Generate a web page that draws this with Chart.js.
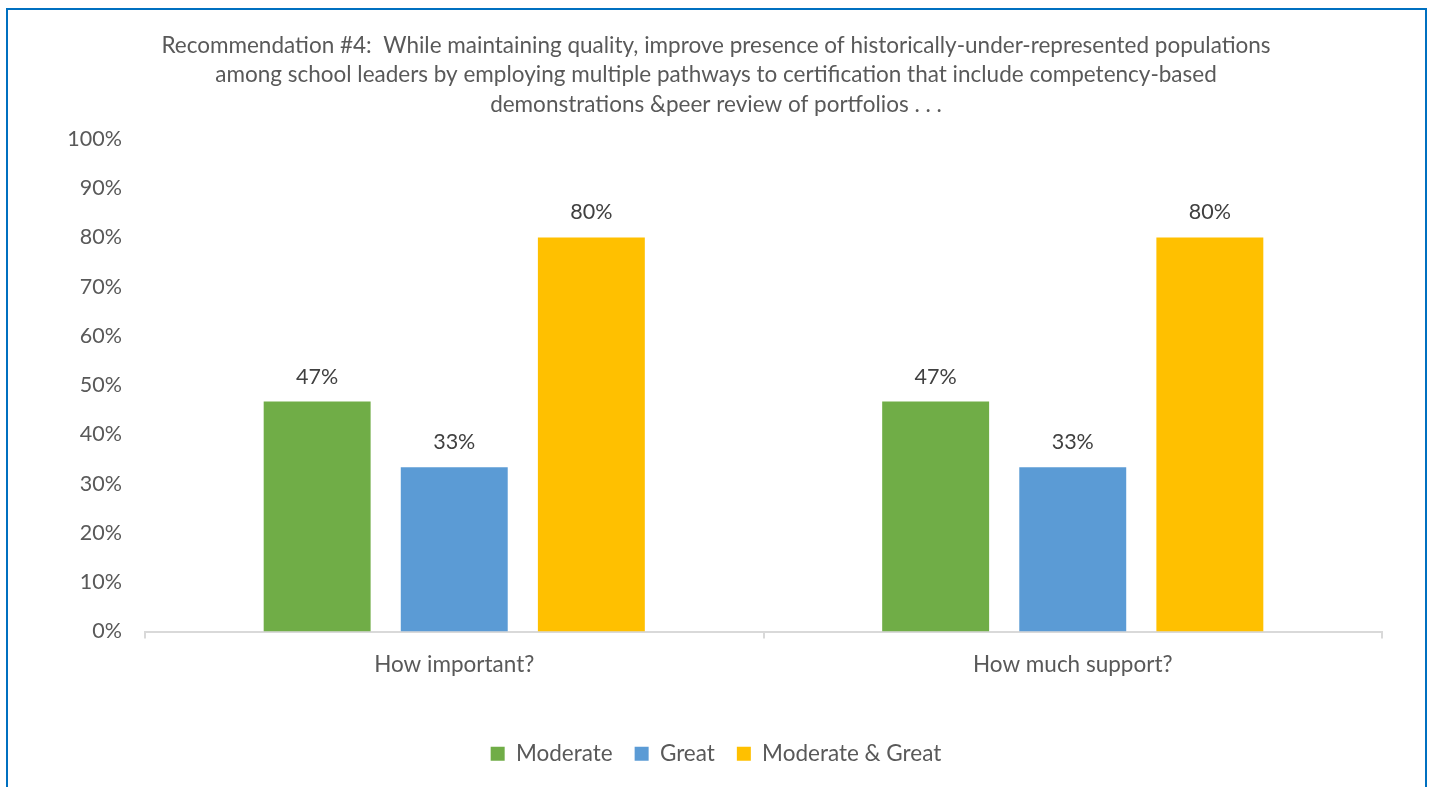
<!DOCTYPE html>
<html>
<head>
<meta charset="utf-8">
<script src="https://cdn.jsdelivr.net/npm/chart.js@4"></script>
<style>
  body { margin: 0; background: #fff; }
  #frame { position: absolute; left: 6px; top: 8px; width: 1417px; height: 800px; border: 2px solid #0070C0; box-sizing: content-box; }
  #wrap { position: absolute; left: 0; top: 0; width: 1432px; height: 787px; }
</style>
</head>
<body>
<div id="frame"></div>
<div id="wrap"><canvas id="myChart"></canvas></div>
<script>
// values (shown rounded: 47%, 33%, 80%)
const categories = ['How important?', 'How much support?'];
const moderate = [46.67, 46.67];
const great = [33.33, 33.33];
const moderateGreat = [80, 80];
const yTicks = [0, 10, 20, 30, 40, 50, 60, 70, 80, 90, 100];

const titleLines = [
  'Recommendation #4:  While maintaining quality, improve presence of historically-under-represented populations',
  'among school leaders by employing multiple pathways to certification that include competency-based',
  'demonstrations &peer review of portfolios . . .'
];

const FONT = 'Lato, "Open Sans", sans-serif';

// draws the % labels above the bars
const barLabels = {
  id: 'barLabels',
  afterDatasetsDraw(chart) {
    const ctx = chart.ctx;
    ctx.save();
    ctx.font = '21.5px ' + FONT;
    ctx.fillStyle = '#404040';
    ctx.textAlign = 'center';
    ctx.textBaseline = 'middle';
    chart.data.datasets.forEach((ds, i) => {
      chart.getDatasetMeta(i).data.forEach((bar, j) => {
        ctx.fillText(Math.round(ds.data[j]) + '%', bar.x, bar.y - 25);
      });
    });
    ctx.restore();
  }
};

const data = {
  labels: categories,
  datasets: [{
    label: 'Moderate',
    data: moderate,
    backgroundColor: '#70AD47',
    borderWidth: 0
  }, {
    label: 'Great',
    data: great,
    backgroundColor: '#5B9BD5',
    borderWidth: 0
  }, {
    label: 'Moderate & Great',
    data: moderateGreat,
    backgroundColor: '#FFC000',
    borderWidth: 0
  }]
};

const config = {
  type: 'bar',
  data: data,
  options: {
    responsive: true,
    maintainAspectRatio: false,
    animation: false,
    categoryPercentage: 0.665,
    barPercentage: 0.78,
    layout: { padding: { left: 50, right: 50, top: 0, bottom: 12 } },
    plugins: {
      title: {
        display: true,
        text: titleLines,
        color: '#595959',
        font: { family: FONT, size: 22.5, weight: 'normal', lineHeight: 1.31 },
        padding: { top: 31, bottom: 19.5 }
      },
      legend: {
        position: 'bottom',
        labels: {
          color: '#595959',
          font: { family: FONT, size: 22.5 },
          boxWidth: 14,
          boxHeight: 14,
          padding: 22
        }
      },
      tooltip: { enabled: false }
    },
    scales: {
      x: {
        grid: { display: true, drawOnChartArea: false, offset: true, color: '#D9D9D9', lineWidth: 2, tickLength: 7 },
        border: { display: true, color: '#D9D9D9', width: 2 },
        ticks: { color: '#595959', font: { family: FONT, size: 22.5 }, padding: 13, maxRotation: 0 },
        afterFit(scale) { scale.height = 89; }
      },
      y: {
        min: 0,
        max: 100,
        afterBuildTicks(scale) { scale.ticks = yTicks.map(v => ({ value: v })); },
        grid: { display: false },
        border: { display: false },
        ticks: { color: '#595959', font: { family: FONT, size: 21.5 }, padding: 15, callback: v => v + '%' },
        afterFit(scale) { scale.width = 95; }
      }
    }
  },
  plugins: [barLabels]
};

const myChart = new Chart(document.getElementById('myChart'), config);
</script>
</body>
</html>
